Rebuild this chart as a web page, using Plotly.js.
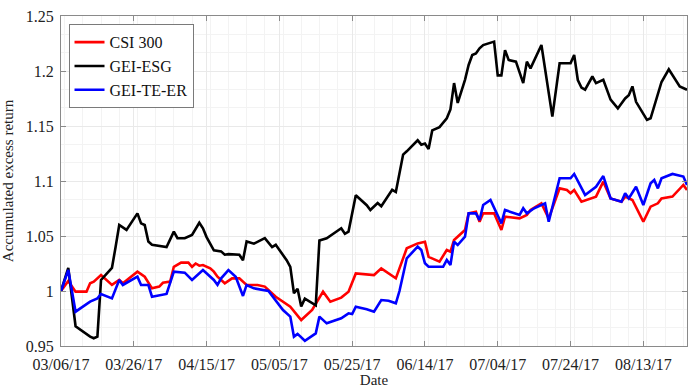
<!DOCTYPE html>
<html>
<head>
<meta charset="utf-8">
<script src="https://cdn.plot.ly/plotly-3.0.1.min.js"></script>
<style>html,body{margin:0;padding:0;background:#fff;}#chart{width:688px;height:388px;}</style>
</head>
<body>
<div id="chart"></div>
<script>
const seriesNames = ["CSI 300", "GEI-ESG", "GEI-TE-ER"];

const csiDates = ["2017-03-06","2017-03-08","2017-03-10","2017-03-13","2017-03-14","2017-03-15","2017-03-17","2017-03-18","2017-03-20","2017-03-22","2017-03-23","2017-03-27","2017-03-29","2017-03-31","2017-04-02","2017-04-03","2017-04-05","2017-04-06","2017-04-08","2017-04-10","2017-04-11","2017-04-12","2017-04-13","2017-04-14","2017-04-16","2017-04-17","2017-04-18","2017-04-20","2017-04-22","2017-04-24","2017-04-26","2017-04-29","2017-05-01","2017-05-04","2017-05-08","2017-05-11","2017-05-14","2017-05-17","2017-05-19","2017-05-22","2017-05-24","2017-05-26","2017-05-29","2017-05-31","2017-06-02","2017-06-04","2017-06-06","2017-06-09","2017-06-12","2017-06-14","2017-06-15","2017-06-18","2017-06-20","2017-06-21","2017-06-22","2017-06-25","2017-06-26","2017-06-28","2017-06-29","2017-06-30","2017-07-03","2017-07-05","2017-07-06","2017-07-10","2017-07-11","2017-07-12","2017-07-13","2017-07-16","2017-07-18","2017-07-21","2017-07-23","2017-07-24","2017-07-25","2017-07-27","2017-07-31","2017-08-02","2017-08-04","2017-08-07","2017-08-08","2017-08-10","2017-08-13","2017-08-15","2017-08-17","2017-08-18","2017-08-21","2017-08-24","2017-08-25"];
const csiValues = [1.000,1.009,0.9994,0.9994,1.007,1.0085,1.0145,1.0115,1.0055,1.010,1.007,1.0176,1.013,1.0024,1.004,1.0075,1.0085,1.022,1.0258,1.0258,1.022,1.025,1.023,1.0236,1.0206,1.0176,1.013,1.007,1.0115,1.0115,1.0055,1.0055,1.004,0.9948,0.9857,0.9736,0.9827,0.9994,0.9903,0.994,0.9994,1.016,1.0155,1.0145,1.0206,1.016,1.0115,1.0388,1.0433,1.0448,1.031,1.0267,1.0373,1.0358,1.0464,1.0555,1.0706,1.0721,1.063,1.0706,1.0706,1.0555,1.0676,1.066,1.0676,1.0691,1.0736,1.0797,1.066,1.0933,1.0918,1.0888,1.0918,1.0812,1.0858,1.0994,1.0842,1.0812,1.0858,1.0827,1.063,1.0767,1.0797,1.0842,1.0858,1.0964,1.0918];

const esgDates = ["2017-03-06","2017-03-08","2017-03-10","2017-03-12","2017-03-14","2017-03-15","2017-03-16","2017-03-17","2017-03-20","2017-03-21","2017-03-22","2017-03-24","2017-03-27","2017-03-28","2017-03-29","2017-03-30","2017-03-31","2017-04-04","2017-04-06","2017-04-07","2017-04-09","2017-04-11","2017-04-13","2017-04-14","2017-04-15","2017-04-17","2017-04-19","2017-04-20","2017-04-21","2017-04-24","2017-04-25","2017-04-26","2017-04-28","2017-05-01","2017-05-03","2017-05-04","2017-05-07","2017-05-08","2017-05-09","2017-05-10","2017-05-11","2017-05-12","2017-05-14","2017-05-15","2017-05-16","2017-05-18","2017-05-22","2017-05-23","2017-05-24","2017-05-26","2017-05-29","2017-05-30","2017-06-01","2017-06-02","2017-06-05","2017-06-06","2017-06-08","2017-06-09","2017-06-12","2017-06-13","2017-06-14","2017-06-15","2017-06-16","2017-06-18","2017-06-20","2017-06-21","2017-06-22","2017-06-23","2017-06-25","2017-06-26","2017-06-27","2017-06-28","2017-06-29","2017-06-30","2017-07-03","2017-07-04","2017-07-05","2017-07-06","2017-07-07","2017-07-09","2017-07-11","2017-07-12","2017-07-13","2017-07-16","2017-07-19","2017-07-21","2017-07-24","2017-07-25","2017-07-26","2017-07-27","2017-07-28","2017-07-30","2017-07-31","2017-08-02","2017-08-04","2017-08-06","2017-08-08","2017-08-09","2017-08-10","2017-08-11","2017-08-14","2017-08-15","2017-08-18","2017-08-20","2017-08-23","2017-08-25"];
const esgValues = [1.000,1.021,0.968,0.963,0.9585,0.957,0.9585,1.010,1.021,1.040,1.060,1.0555,1.0706,1.0615,1.060,1.045,1.042,1.040,1.054,1.048,1.048,1.051,1.062,1.057,1.049,1.037,1.036,1.033,1.0335,1.033,1.028,1.045,1.043,1.048,1.040,1.042,1.028,1.022,0.998,1.002,0.986,0.993,0.989,0.987,1.046,1.048,1.057,1.052,1.054,1.087,1.078,1.0736,1.080,1.077,1.092,1.090,1.124,1.127,1.137,1.133,1.134,1.129,1.146,1.149,1.157,1.165,1.189,1.171,1.192,1.2055,1.2145,1.216,1.2206,1.2236,1.2267,1.196,1.196,1.219,1.210,1.2085,1.189,1.2085,1.2024,1.2236,1.1585,1.207,1.207,1.2145,1.1918,1.185,1.183,1.195,1.189,1.192,1.174,1.166,1.175,1.178,1.186,1.172,1.1555,1.157,1.190,1.2015,1.186,1.183];

const teDates = ["2017-03-06","2017-03-08","2017-03-10","2017-03-12","2017-03-14","2017-03-16","2017-03-17","2017-03-20","2017-03-22","2017-03-23","2017-03-27","2017-03-28","2017-03-30","2017-03-31","2017-04-04","2017-04-06","2017-04-09","2017-04-11","2017-04-14","2017-04-17","2017-04-18","2017-04-19","2017-04-21","2017-04-23","2017-04-25","2017-04-26","2017-04-28","2017-05-02","2017-05-06","2017-05-08","2017-05-09","2017-05-10","2017-05-12","2017-05-15","2017-05-16","2017-05-18","2017-05-22","2017-05-24","2017-05-25","2017-05-26","2017-05-29","2017-05-31","2017-06-02","2017-06-04","2017-06-06","2017-06-07","2017-06-09","2017-06-12","2017-06-13","2017-06-14","2017-06-15","2017-06-19","2017-06-20","2017-06-21","2017-06-22","2017-06-23","2017-06-25","2017-06-26","2017-06-28","2017-06-29","2017-06-30","2017-07-02","2017-07-05","2017-07-06","2017-07-10","2017-07-11","2017-07-12","2017-07-14","2017-07-17","2017-07-18","2017-07-21","2017-07-24","2017-07-25","2017-07-28","2017-07-31","2017-08-02","2017-08-04","2017-08-07","2017-08-08","2017-08-09","2017-08-11","2017-08-13","2017-08-15","2017-08-16","2017-08-17","2017-08-18","2017-08-21","2017-08-24","2017-08-25"];
const teValues = [1.000,1.0191,0.9812,0.9857,0.9903,0.9933,0.9973,0.9933,1.010,1.0055,1.013,1.0055,1.0055,0.9948,0.9973,1.0176,1.0167,1.010,1.019,1.010,1.0055,1.0115,1.019,1.013,0.9955,1.0055,1.0024,1.000,0.9827,0.9767,0.9585,0.961,0.9548,0.9615,0.9767,0.9706,0.9752,0.9797,0.979,0.9857,0.9835,0.9812,0.9918,0.9912,0.9888,1.000,1.0297,1.0403,1.0373,1.0252,1.022,1.022,1.0282,1.0236,1.0448,1.0418,1.0494,1.0706,1.0706,1.0645,1.0782,1.0827,1.0615,1.0736,1.0691,1.0752,1.0706,1.0752,1.0797,1.063,1.1025,1.1025,1.1064,1.0873,1.0948,1.1045,1.0842,1.0812,1.0888,1.0842,1.0948,1.0782,1.0979,1.1009,1.0933,1.1025,1.1064,1.104,1.0964];

const yTicks = [0.95, 1, 1.05, 1.1, 1.15, 1.2, 1.25];
const yTickText = ["0.95", "1", "1.05", "1.1", "1.15", "1.2", "1.25"];

const serif = "Liberation Serif, Times New Roman, serif";
const axisGray = "#8a8a8a";

const traces = [
  {x: csiDates, y: csiValues, name: seriesNames[0], type: "scatter", mode: "lines", line: {color: "#ff0000", width: 2.6}},
  {x: esgDates, y: esgValues, name: seriesNames[1], type: "scatter", mode: "lines", line: {color: "#000000", width: 2.6}},
  {x: teDates, y: teValues, name: seriesNames[2], type: "scatter", mode: "lines", line: {color: "#0000ff", width: 2.6}}
];

const layout = {
  width: 688, height: 388,
  margin: {l: 61, r: 1, t: 16, b: 42, pad: 0},
  paper_bgcolor: "#ffffff", plot_bgcolor: "#ffffff",
  font: {family: serif, size: 16, color: "#222"},
  showlegend: true,
  legend: {
    x: 0.012, y: 0.975, xanchor: "left", yanchor: "top",
    bgcolor: "#ffffff", bordercolor: "#7a7a7a", borderwidth: 1,
    font: {family: serif, size: 16, color: "#111"},
    tracegroupgap: 0, itemwidth: 30
  },
  xaxis: {
    type: "date",
    range: ["2017-03-06", "2017-08-25"],
    tick0: "2017-03-06", dtick: 20 * 86400000,
    tickformat: "%m/%d/%y",
    ticks: "inside", ticklen: 5, tickcolor: axisGray, tickwidth: 1,
    showline: true, linecolor: axisGray, linewidth: 1, mirror: "ticks",
    showgrid: true, gridcolor: "#e9e9e9", gridwidth: 1,
    minor: {dtick: 5 * 86400000, showgrid: true, gridcolor: "#f3f3f3", gridwidth: 1},
    zeroline: false,
    tickfont: {family: serif, size: 16, color: "#222"},
    ticklabelstandoff: 4,
    title: {text: "Date", font: {family: serif, size: 15, color: "#222"}, standoff: 0}
  },
  yaxis: {
    range: [0.95, 1.25],
    tickvals: yTicks, ticktext: yTickText,
    ticks: "inside", ticklen: 5, tickcolor: axisGray, tickwidth: 1,
    showline: true, linecolor: axisGray, linewidth: 1, mirror: "ticks",
    showgrid: true, gridcolor: "#e9e9e9", gridwidth: 1,
    minor: {dtick: 0.05 / 3, showgrid: true, gridcolor: "#f3f3f3", gridwidth: 1},
    zeroline: false,
    tickfont: {family: serif, size: 16, color: "#222"},
    ticklabelstandoff: 3,
    title: {text: "Accumulated excess return", font: {family: serif, size: 15, color: "#222"}, standoff: 8}
  }
};

Plotly.newPlot("chart", traces, layout, {staticPlot: true, displayModeBar: false});
</script>
</body>
</html>
